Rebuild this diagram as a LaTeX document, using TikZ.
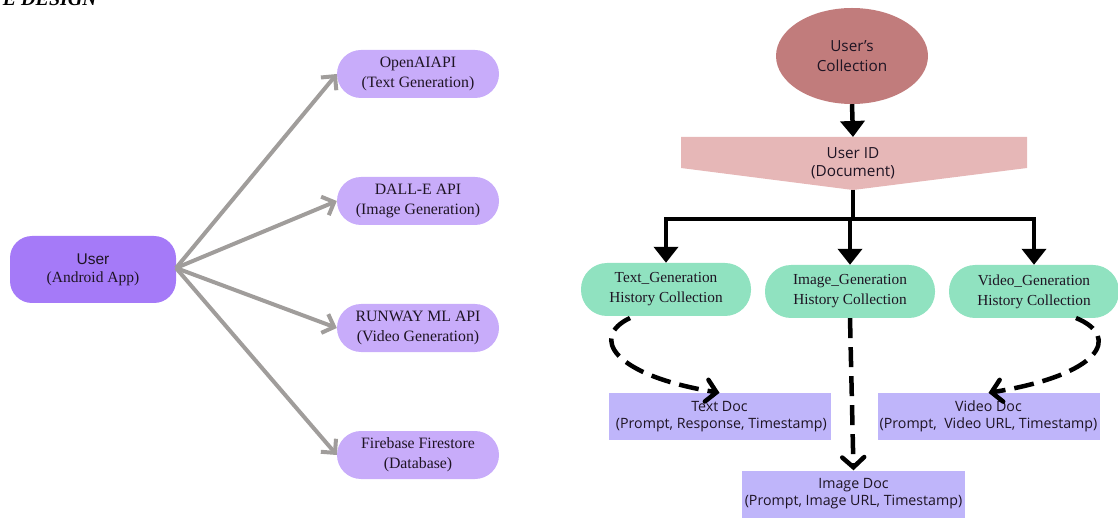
\documentclass[tikz,border=0pt]{standalone}
\usepackage{fontspec}
\setmainfont{Liberation Serif}
\newfontfamily\arialf{Liberation Sans}
\newfontfamily\canvaf{Open Sans}
\usetikzlibrary{arrows.meta,shapes.geometric}
\definecolor{userpurple}{RGB}{165,122,248}
\definecolor{apipurple}{RGB}{200,172,250}
\definecolor{docpurple}{RGB}{191,181,250}
\definecolor{teal}{RGB}{144,226,192}
\definecolor{rosedark}{RGB}{193,124,124}
\definecolor{roselight}{RGB}{230,183,183}
\definecolor{arrgray}{RGB}{160,157,155}
\definecolor{txt}{RGB}{30,20,35}
\tikzset{
  x=1pt,y=-1pt,
  userbox/.style={fill=userpurple,rounded corners=22pt,minimum width=166pt,minimum height=67pt,align=center,text=txt,font=\fontsize{15.5}{18}\selectfont,inner sep=0pt},
  apibox/.style={fill=apipurple,rounded corners=24pt,minimum width=162pt,minimum height=48pt,align=center,text=txt,font=\fontsize{15.8}{20}\selectfont,inner sep=0pt},
  histbox/.style={fill=teal,rounded corners=26pt,minimum width=170pt,minimum height=53pt,align=center,text=txt,font=\fontsize{15.3}{20}\selectfont,inner sep=0pt},
  docbox/.style={fill=docpurple,minimum width=222pt,minimum height=47pt,align=center,text=txt,font=\canvaf\fontsize{14.2}{17}\selectfont,inner sep=0pt},
  grayarr/.style={draw=arrgray,line width=4pt,-{Straight Barb[length=10pt,width=20pt]}},
  blkline/.style={draw=black,line width=4.5pt},
  blkarr/.style={draw=black,line width=4.5pt,-{Triangle[length=16pt,width=24pt]}},
  dasharr/.style={draw=black,line width=4.5pt,dash pattern=on 20pt off 9pt,-{Straight Barb[length=10pt,width=22pt,line cap=round]}},
}
\begin{document}
\begin{tikzpicture}
\useasboundingbox (0,0) rectangle (1118,518);
% title fragment
\node[anchor=base east,inner sep=0pt,font=\bfseries\itshape\fontsize{20}{20}\selectfont] (title) at (97,6) {E DESIGN};

% left part
\node[userbox] (user) at (93,269.5) {{\arialf User}\\(Android App)};
\node[apibox] (openai) at (418,74) {OpenAIAPI\\(Text Generation)};
\node[apibox] (dalle) at (418,201) {DALL-E API\\(Image Generation)};
\node[apibox] (runway) at (418,328) {RUNWAY ML API\\(Video Generation)};
\node[apibox] (fire) at (418,455) {Firebase Firestore\\(Database)};
\coordinate (hub) at (176,268);
\draw[grayarr] (hub) -- (openai.west);
\draw[grayarr] (hub) -- (dalle.west);
\draw[grayarr] (hub) -- (runway.west);
\draw[grayarr] (hub) -- (fire.west);

% right part
\node[ellipse,fill=rosedark,minimum width=152pt,minimum height=96pt,inner sep=0pt,align=center,text=txt,font=\canvaf\fontsize{15.3}{20}\selectfont] (coll) at (852,56) {User’s\\Collection};
\fill[roselight] (681,137) -- (1027,137) -- (1027,168) -- (853,190) -- (681,168) -- cycle;
\coordinate (uidtop) at (853,137);
\coordinate (uidbot) at (853,190);
\node[inner sep=0pt,align=center,text=txt,font=\canvaf\fontsize{15.3}{18}\selectfont] (userid) at (853,163) {User ID\\(Document)};
\draw[blkarr] (coll.south) -- (uidtop);

\node[histbox] (texth) at (666,289.5) {Text\_Generation\\History Collection};
\node[histbox] (imageh) at (850,291.5) {Image\_Generation\\History Collection};
\node[histbox] (videoh) at (1034,291.5) {Video\_Generation\\History Collection};

\coordinate (junc) at (853,219);
\coordinate (tl) at (texth |- junc);
\coordinate (tm) at (imageh |- junc);
\coordinate (tr) at (videoh |- junc);
\draw[blkline] (uidbot) -- (junc);
\draw[blkline,line cap=rect] (tl) -- (tr);
\draw[blkarr] (tl) -- (texth.north);
\draw[blkarr] (tm) -- (imageh.north);
\draw[blkarr] (tr) -- (videoh.north);

\node[docbox] (textd) at (719.5,416.5) {Text Doc\\\ (Prompt, Response, Timestamp)};
\node[docbox] (videod) at (988.5,416.5) {Video Doc\\(Prompt,\ \ Video URL, Timestamp)};
\node[docbox,minimum width=223pt] (imaged) at (853.5,494) {Image Doc\\(Prompt, Image URL, Timestamp)};

\coordinate (ts) at (630,318);
\coordinate (vs) at (1076,318);
\draw[dasharr] (ts) .. controls (590,337) and (612,375) .. (textd.north);
\draw[dasharr] (imageh.south) -- (imaged.north);
\draw[dasharr] (vs) .. controls (1122,337) and (1100,375) .. (videod.north);
\end{tikzpicture}
\end{document}
